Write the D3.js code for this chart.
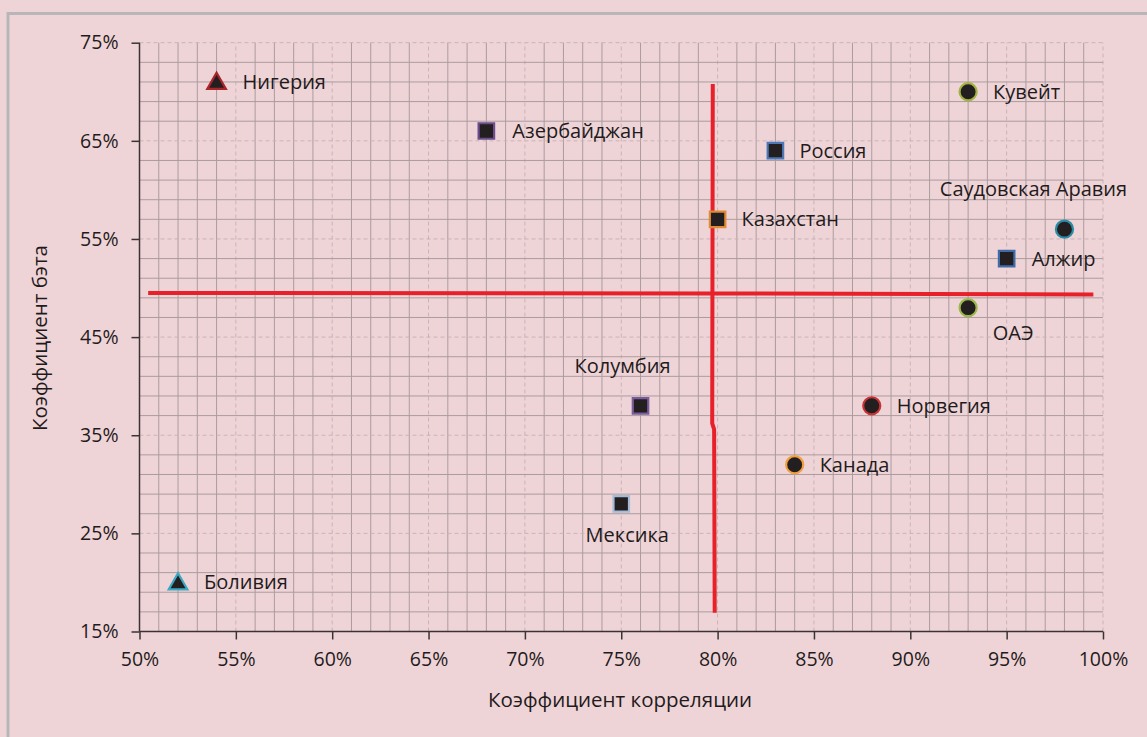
<!DOCTYPE html>
<html>
<head>
<meta charset="utf-8">
<script src="https://cdn.jsdelivr.net/npm/d3@7"></script>
<style>
  html, body { margin: 0; padding: 0; background: #efd4d7; }
  svg { display: block; }
  text { font-family: "Open Sans", "Noto Sans", sans-serif; fill: #1f1b1c; }
</style>
</head>
<body>
<svg id="chart" width="1147" height="737"></svg>
<script>
// ---- data ----
const countries = ["Нигерия","Азербайджан","Россия","Казахстан","Кувейт","Саудовская Аравия","Алжир","ОАЭ","Колумбия","Норвегия","Канада","Мексика","Боливия"];
const correlation = [54, 68, 83, 80, 93, 98, 95, 93, 76, 88, 84, 75, 52];   // x, %
const beta        = [71, 66, 64, 57, 70, 56, 53, 48, 38, 38, 32, 28, 20];   // y, %
const shapes      = ["triangle","square","square","square","circle","circle","square","circle","square","circle","circle","square","triangle"];
const xTicks = [50, 55, 60, 65, 70, 75, 80, 85, 90, 95, 100];
const yTicks = [15, 25, 35, 45, 55, 65, 75];
const xTitle = "Коэффициент корреляции";
const yTitle = "Коэффициент бэта";
// hand-drawn red dividing lines (data coords)
const hDivider = [[50.45, 49.5], [80, 49.45], [99.5, 49.35]];
const vDivider = [[79.75, 70.8], [79.72, 36.2], [79.82, 35.6], [79.85, 16.9]];

// ---- styles (kept apart from data) ----
const strokeColors = ["#a8262a","#6b4c8c","#4a78b8","#e08a34","#9fb33e","#2a8ca4","#3f6ca8","#9cb84a","#7a5c9c","#c63434","#f0a040","#a4bcd8","#3aa8c2"];
// label placement: [dx, dy, anchor] relative to point
const labelPlace = [
  [26, 0, "start"], [26, 0, "start"], [24, 0, "start"], [24, 0, "start"], [25, 0, "start"],
  [-31, -40, "middle"], [25, 0, "start"], [45, 25, "middle"], [-18, -40, "middle"],
  [25, 0, "start"], [25, 0, "start"], [6, 31, "middle"], [26, 0, "start"]
];
const FS = "20px";

const svg = d3.select("#chart");
const W = 1147, H = 737;
const m = { left: 139.5, right: 1103, top: 42.7, bottom: 631.5 };

const x = d3.scaleLinear().domain([50, 100]).range([m.left, m.right]);
const y = d3.scaleLinear().domain([15, 75]).range([m.bottom, m.top]);

// frame
svg.append("rect").attr("x", 0).attr("y", 0).attr("width", W).attr("height", H).attr("fill", "#efd4d7");
svg.append("path").attr("d", `M8,${H} L8,13.5 L${W},13.5`).attr("fill", "none").attr("stroke", "#b9b6ba").attr("stroke-width", 3);

// grid
const g = svg.append("g");
const vGrid = d3.range(51, 101);
g.selectAll(".vg").data(vGrid).enter().append("line")
  .attr("x1", d => x(d)).attr("x2", d => x(d))
  .attr("y1", y(15)).attr("y2", y(75))
  .attr("stroke", d => d % 5 === 0 ? "#c9b3b6" : "#ab9c9e")
  .attr("stroke-width", 1)
  .attr("stroke-dasharray", d => d % 5 === 0 ? "4,3" : null);
const hGrid = d3.range(17, 76, 2);
g.selectAll(".hg").data(hGrid).enter().append("line")
  .attr("x1", x(50)).attr("x2", x(100))
  .attr("y1", d => y(d)).attr("y2", d => y(d))
  .attr("stroke", d => (d - 15) % 10 === 0 ? "#c9b3b6" : "#ab9c9e")
  .attr("stroke-width", 1)
  .attr("stroke-dasharray", d => (d - 15) % 10 === 0 ? "4,3" : null);

// axes
const xAxis = d3.axisBottom(x).tickValues(xTicks).tickFormat(d => d + "%").tickSize(8).tickPadding(13);
const yAxis = d3.axisLeft(y).tickValues(yTicks).tickFormat(d => d + "%").tickSize(8).tickPadding(13);
const gx = svg.append("g").attr("transform", `translate(0,${m.bottom})`).call(xAxis);
const gy = svg.append("g").attr("transform", `translate(${m.left},0)`).call(yAxis);
[gx, gy].forEach(a => {
  a.select(".domain").attr("stroke", "#3a3335").attr("stroke-width", 1.5);
  a.selectAll(".tick line").attr("stroke", "#3a3335").attr("stroke-width", 1.5);
  a.selectAll(".tick text").style("font-family", "'Open Sans', sans-serif").style("font-size", "19.5px").attr("fill", "#1f1b1c");
});
gx.select(".domain").attr("d", `M${m.left},0H${m.right}`);
gy.select(".domain").attr("d", `M0,${m.bottom}V${m.top}`);

// axis titles
svg.append("text").attr("x", 620).attr("y", 707).attr("text-anchor", "middle")
  .style("font-size", "20.5px").text(xTitle);
svg.append("text").attr("transform", "translate(47,338) rotate(-90)").attr("text-anchor", "middle")
  .style("font-size", "20.5px").text(yTitle);

// red dividers
const line = d3.line().x(d => x(d[0])).y(d => y(d[1]));
svg.append("path").attr("d", line(hDivider)).attr("fill", "none").attr("stroke", "#e7202a").attr("stroke-width", 4);
svg.append("path").attr("d", line(vDivider)).attr("fill", "none").attr("stroke", "#e7202a").attr("stroke-width", 4);

// points
const pts = countries.map((c, i) => ({ name: c, cx: correlation[i], cy: beta[i], shape: shapes[i], stroke: strokeColors[i], place: labelPlace[i] }));
const symbolMap = { triangle: d3.symbolTriangle, square: d3.symbolSquare, circle: d3.symbolCircle };
const symSize = { triangle: 150, square: 240, circle: 230 };
const pg = svg.append("g");
pg.selectAll("path.pt").data(pts).enter().append("path")
  .attr("class", "pt")
  .attr("transform", d => `translate(${x(d.cx)},${y(d.cy) + (d.shape === "triangle" ? 1.5 : 0)})`)
  .attr("d", d => d3.symbol().type(symbolMap[d.shape]).size(symSize[d.shape])())
  .attr("fill", "#231f20")
  .attr("stroke", d => d.stroke)
  .attr("stroke-width", 2.2);

pg.selectAll("text.lbl").data(pts).enter().append("text")
  .attr("class", "lbl")
  .attr("x", d => x(d.cx) + d.place[0])
  .attr("y", d => y(d.cy) + d.place[1])
  .attr("dy", "0.35em")
  .attr("text-anchor", d => d.place[2])
  .style("font-size", FS)
  .text(d => d.name);
</script>
</body>
</html>
